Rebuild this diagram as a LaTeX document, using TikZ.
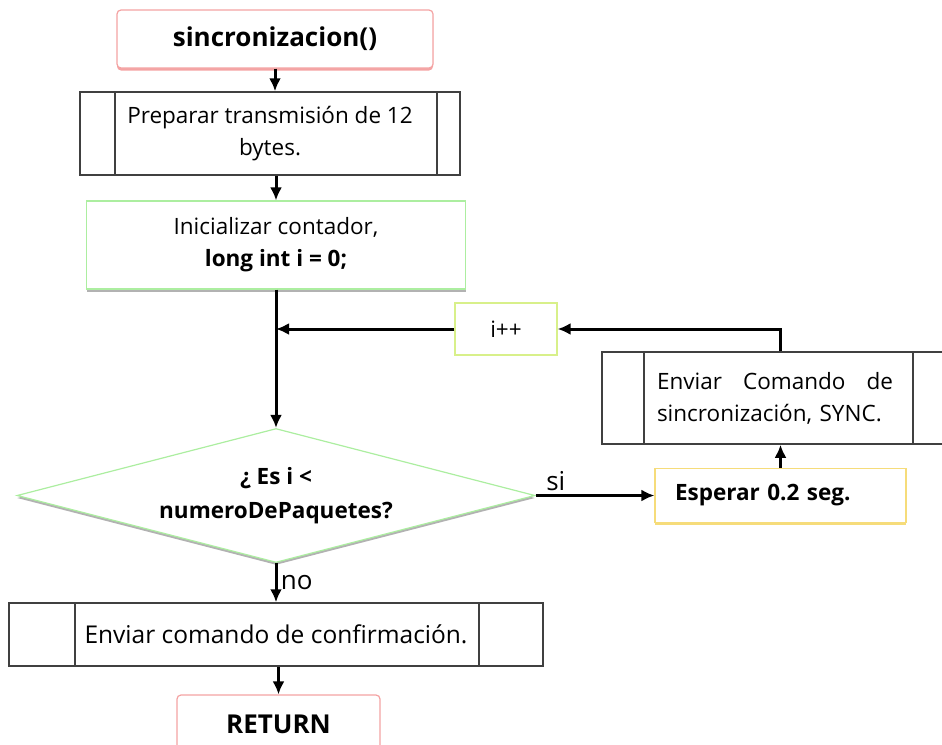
\documentclass[tikz,border=0pt]{standalone}
\usepackage{fontspec}
\setmainfont{Open Sans}
\usetikzlibrary{positioning,shapes.geometric,arrows.meta,shadows}

\definecolor{rosa}{HTML}{F4A3A3}
\definecolor{verde}{HTML}{ACEEA0}
\definecolor{lima}{HTML}{D8F08A}
\definecolor{naranja}{HTML}{F6DC7A}

\tikzset{
  base/.style={rectangle, fill=white, inner sep=2pt, align=center,
    font=\fontsize{22.5}{32}\selectfont},
  term/.style={base, draw=rosa, line width=1.2pt, rounded corners=4pt,
    font=\fontsize{26}{32}\selectfont\bfseries},
  proc/.style={base, draw=verde, line width=1.2pt},
  predef/.style 2 args={base, draw=black!75, line width=1.5pt,
    path picture={
      \draw[black!75, line width=1.5pt]
        ([xshift=#1]path picture bounding box.north west) --
        ([xshift=#1]path picture bounding box.south west);
      \draw[black!75, line width=1.5pt]
        ([xshift=-#2]path picture bounding box.north east) --
        ([xshift=-#2]path picture bounding box.south east);
    }},
  decision/.style={diamond, aspect=3.9, draw=verde, fill=white, line width=1.2pt,
    inner sep=0pt, align=center, font=\fontsize{22.5}{34}\selectfont\bfseries},
  sombra/.style={drop shadow={shadow xshift=0pt, shadow yshift=-2.5pt,
    fill=#1, opacity=1}},
  flecha/.style={-{Latex[length=13pt,width=12pt]}, line width=3pt},
  etiq/.style={font=\fontsize{26}{28}\selectfont}
}

\begin{document}
\begin{tikzpicture}[x=1pt, y=-1pt]
    \useasboundingbox (0,0) rectangle (942,744);

    % Inicio y preparacion
    \node[term, sombra=rosa, minimum width=316, minimum height=58] (start) at (275,39) {sincronizacion()};
    \node[predef={35}{23}, minimum width=380, minimum height=83] (prep) at (270,133.5)
        {Preparar transmisión de 12\\bytes.};
    \node[proc, sombra=gray!60, minimum width=379, minimum height=88] (init) at (276,245)
        {Inicializar contador,\\\textbf{long int i = 0;}};

    % Lazo de sincronizacion
    \node[proc, draw=lima, minimum width=102, minimum height=52] (incr) at (506,329) {i++};
    \node[decision, sombra=gray!60, minimum width=518, minimum height=134] (cond) at (276,495.5)
        {¿ Es i <\\numeroDePaquetes?};
    \node[predef={42}{35}, align=left, text width=236, minimum width=346, minimum height=92] (sync) at (775,398)
        {Enviar\hfill Comando\hfill de\\sincronización, SYNC.};
    \node[proc, draw=naranja, sombra=naranja, align=left, text width=211, minimum width=251, minimum height=54,
        font=\fontsize{22.5}{32}\selectfont\bfseries] (wait) at (780.5,495.5) {Esperar 0.2 seg.};

    % Fin
    \node[predef={66}{64}, minimum width=534, minimum height=63, font=\fontsize{24.5}{32}\selectfont] (conf) at (276,634.5)
        {Enviar comando de confirmación.};
    \node[term, minimum width=203, minimum height=58] (ret) at (278.5,724) {RETURN};

    % Flechas
    \coordinate (union) at (init.south |- incr.west);
    \draw[flecha] (start.south) -- (start.south |- prep.north);
    \draw[flecha] (prep.south -| init.north) -- (init.north);
    \draw[flecha] (init.south) -- (cond.north);
    \draw[flecha] (incr.west) -- (union);
    \draw[flecha] (wait.north |- sync.north) |- (incr.east);
    \draw[flecha] (wait.north) -- (wait.north |- sync.south);
    \draw[flecha] (cond.east) -- node[etiq, above, pos=0.17] {si} (wait.west);
    \draw[flecha] (cond.south) -- node[etiq, right] {no} (conf.north);
    \draw[flecha] (conf.south -| ret.north) -- (ret.north);
\end{tikzpicture}
\end{document}
